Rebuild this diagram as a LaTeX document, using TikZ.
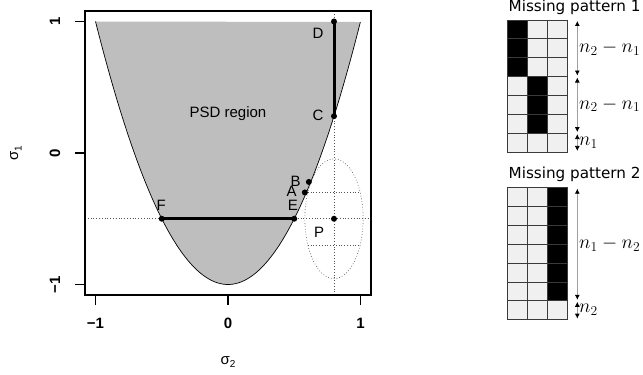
\documentclass[tikz,border=0pt]{standalone}
\usepackage[no-math]{fontspec}
\setmainfont{Liberation Sans}
\newfontfamily\patfont{DejaVu Sans}
\usetikzlibrary{arrows.meta,positioning,calc}
\definecolor{PSDGray}{HTML}{BEBEBE}
\definecolor{CellLight}{HTML}{F0F0F0}
\definecolor{CellLine}{HTML}{3A3A3A}
\definecolor{SpanGray}{HTML}{A0A0A0}
\definecolor{GuideGray}{HTML}{555555}
\newcommand{\siglab}[1]{σ\raisebox{-0.45ex}{\fontsize{10}{12}\selectfont #1}}
\newcommand{\spanmath}[1]{\scalebox{1.13}{$#1$}}
\tikzset{
    % Plot points and labels
    pointdot/.style={
        circle,
        fill=black,
        inner sep=0pt,
        minimum size=6pt
    },
    ptlabel/.style={
        inner sep=0pt,
        font=\fontsize{15}{18}\selectfont
    },
    ticklabel/.style={
        inner sep=0pt,
        font=\fontsize{15}{18}\selectfont\bfseries
    },
    guide/.style={
        GuideGray,
        line width=0.6pt,
        dash pattern=on 0.8pt off 2pt
    },
    thickseg/.style={
        line width=3pt
    },
    % Missing pattern grids
    gridcell/.style={
        draw=CellLine,
        line width=0.8pt
    },
    spanarrow/.style={
        SpanGray,
        line width=0.8pt,
        shorten <=1pt,
        shorten >=1pt,
        {Latex[black,length=5pt,width=5pt]}-{Latex[black,length=5pt,width=5pt]}
    },
    spanlabel/.style={
        right,
        inner sep=1.5pt,
        text=black,
        font=\fontsize{17.28}{20}\selectfont
    },
    pattitle/.style={
        anchor=base west,
        inner sep=0pt,
        font=\patfont\fontsize{15.2}{18}\selectfont
    }
}

\begin{document}
\begin{tikzpicture}[x=1pt, y=1pt]
    \useasboundingbox (0,0) rectangle (643,375);

    % PSD plot
    \begin{scope}[shift={(228,222)}, x=132.5pt, y=131.5pt]
        \fill[PSDGray] plot[domain=-1:1, samples=90] (\x,{2*\x*\x-1}) -- cycle;
        \draw[line width=0.7pt] plot[domain=-1:1, samples=90] (\x,{2*\x*\x-1});
        \node[ptlabel] (psd) at (0,0.30) {PSD region};

        % Guides
        \draw[guide] (-1.08,-0.5) -- (1.08,-0.5);
        \draw[guide] (0.8,-1.08) -- (0.8,1.08);
        \draw[guide] (0.8,-0.5) ellipse [x radius=0.22, y radius=0.455];
        \draw[guide] (0.602,-0.3) -- (0.998,-0.3);
        \draw[guide] (0.602,-0.7) -- (0.998,-0.7);

        % Points
        \node[pointdot] (D) at (0.8,1) {};
        \node[pointdot] (C) at (0.8,0.28) {};
        \node[pointdot] (B) at (0.61,-0.22) {};
        \node[pointdot] (A) at (0.58,-0.30) {};
        \node[pointdot] (E) at (0.5,-0.5) {};
        \node[pointdot] (F) at (-0.5,-0.5) {};
        \node[pointdot] (P) at (0.8,-0.5) {};
        \draw[thickseg] (F.center) -- (E.center);
        \draw[thickseg] (D.center) -- (C.center);

        % Point labels
        \node[ptlabel] (labD) at (0.68,0.91) {D};
        \node[ptlabel] (labC) at (0.68,0.29) {C};
        \node[ptlabel] (labB) at (0.51,-0.215) {B};
        \node[ptlabel] (labA) at (0.48,-0.295) {A};
        \node[ptlabel] (labE) at (0.49,-0.395) {E};
        \node[ptlabel] (labF) at (-0.505,-0.40) {F};
        \node[ptlabel] (labP) at (0.687,-0.60) {P};

        % Frame and axes
        \draw[line width=2pt] (-1.08,-1.08) rectangle (1.08,1.08);
        \foreach \t/\lab in {-1/−1, 0/0, 1/1} {
            \draw[line width=1.2pt] (\t,-1.08) -- ++(0,-0.075);
            \node[ticklabel] at (\t,-1.297) {\lab};
            \draw[line width=1.2pt] (-1.08,\t) -- ++(-0.075,0);
            \node[ticklabel, rotate=90] at (-1.306,\t) {\lab};
        }
        \node[ptlabel] (xlab) at (0,-1.59) {\siglab{2}};
        \node[ptlabel, rotate=90] (ylab) at (-1.60,0) {\siglab{1}};
    \end{scope}

    % Missing pattern 1
    \node[pattitle] (title1) at (508.5,363) {Missing pattern 1};
    \begin{scope}[shift={(507.7,355)}]
        \fill[CellLight] (0,0) rectangle (59.7,-131.95);
        \foreach \c/\r in {0/0, 0/1, 0/2, 1/3, 1/4, 1/5}
            \fill[black] (\c*19.9,-\r*18.85) rectangle ++(19.9,-18.85);
        \draw[gridcell, xstep=19.9, ystep=18.85] (0,-131.96) grid (59.71,0);
        \draw[gridcell] (0,0) rectangle (59.7,-131.95);
        \coordinate (m1a) at (69.6,0);
        \coordinate (m1b) at (69.6,-56.55);
        \coordinate (m1c) at (69.6,-113.1);
        \coordinate (m1d) at (69.6,-131.95);
        \draw[spanarrow] (m1a) -- node[spanlabel] {\spanmath{n_2-n_1}} (m1b);
        \draw[spanarrow] (m1b) -- node[spanlabel] {\spanmath{n_2-n_1}} (m1c);
        \draw[spanarrow] (m1c) -- node[spanlabel] {\spanmath{n_1}} (m1d);
    \end{scope}

    % Missing pattern 2
    \node[pattitle] (title2) at (508.5,196) {Missing pattern 2};
    \begin{scope}[shift={(507.7,187.3)}]
        \fill[CellLight] (0,0) rectangle (59.7,-131.95);
        \foreach \r in {0,...,5}
            \fill[black] (2*19.9,-\r*18.85) rectangle ++(19.9,-18.85);
        \draw[gridcell, xstep=19.9, ystep=18.85] (0,-131.96) grid (59.71,0);
        \draw[gridcell] (0,0) rectangle (59.7,-131.95);
        \coordinate (m2a) at (69.6,0);
        \coordinate (m2b) at (69.6,-113.1);
        \coordinate (m2c) at (69.6,-131.95);
        \draw[spanarrow] (m2a) -- node[spanlabel] {\spanmath{n_1-n_2}} (m2b);
        \draw[spanarrow] (m2b) -- node[spanlabel] {\spanmath{n_2}} (m2c);
    \end{scope}
\end{tikzpicture}
\end{document}
